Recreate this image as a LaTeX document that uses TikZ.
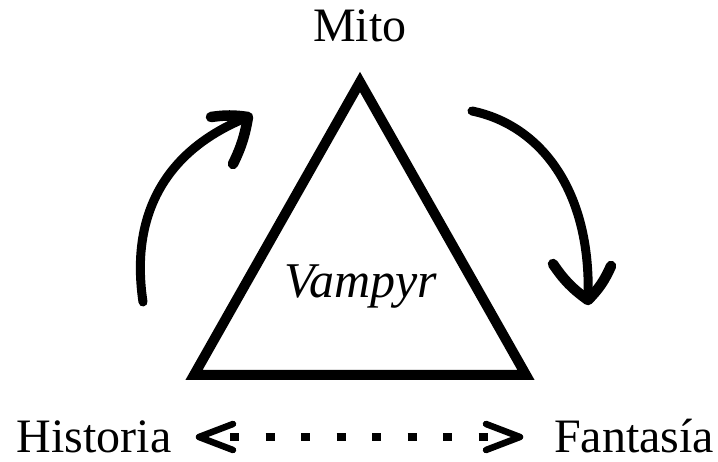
\documentclass[tikz,border=0pt]{standalone}
\usepackage{fontspec}
\setmainfont{Liberation Serif}
\begin{document}
\begin{tikzpicture}[x=1pt, y=-1pt,
  word/.style={font=\fontsize{48}{56}\selectfont, inner sep=0pt, anchor=base},
  frame/.style={line width=10pt, line join=miter},
  brush/.style={line width=9pt, line cap=round, line join=round},
  barb/.style={line width=10.5pt, line cap=round, line join=round},
  chevron/.style={line width=6.5pt, line cap=round, line join=round},
  dotline/.style={line width=8pt, dash pattern=on 9pt off 26.5pt}]
\useasboundingbox (0,0) rectangle (718,462);

% labels
\node[word] (mito) at (360,42) {Mito};
\node[word, font=\fontsize{50}{58}\selectfont\itshape] (vampyr) at (361,298) {Vampyr};
\node[word] (historia) at (94,453) {Historia};
\node[word] (fantasia) at (634,453) {Fantasía};

% the triangle
\coordinate (apex) at (360,82);
\coordinate (bl) at (194,375);
\coordinate (br) at (526,375);
\draw[frame] (apex) -- (bl) -- (br) -- cycle;

% rising arrow on the left
\coordinate (ltail) at (143,302);
\coordinate (ltip) at (248,117);
\draw[brush] (ltail) .. controls (130,215) and (165,150) .. (ltip);
\draw[barb] (211,117) to[bend left=8] (ltip) to[bend left=8] (233,164);

% falling arrow on the right
\coordinate (rtail) at (472,111);
\coordinate (rtip) at (588,300);
\draw[brush] (rtail) .. controls (540,125) and (592,190) .. (rtip);
\draw[barb] (553,264) to[bend right=10] (rtip) to[bend right=10] (611,266);

% dashed double link between Historia and Fantasía
\coordinate (hl) at (199,437);
\coordinate (hr) at (520,437);
\draw[chevron] (233,424) -- (hl) -- (233,450);
\draw[chevron] (486,424) -- (hr) -- (486,450);
\draw[dotline] (230,437) -- (490,437);
\end{tikzpicture}
\end{document}
